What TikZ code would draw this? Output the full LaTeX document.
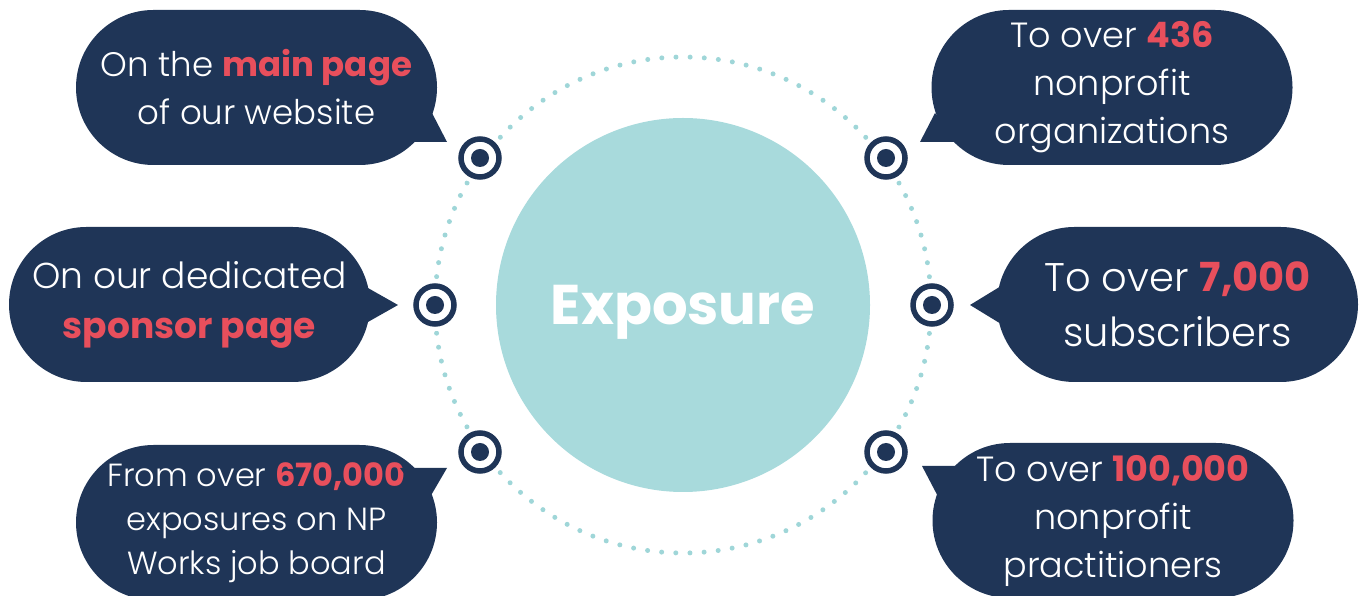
\documentclass[tikz,border=0pt]{standalone}
\usepackage{fontspec}
\setmainfont{Poppins}[UprightFont=* Light, BoldFont=* Bold]
\definecolor{navy}{HTML}{1F3557}
\definecolor{coral}{HTML}{E84F5C}
\definecolor{teal}{HTML}{A8DADC}
\definecolor{dotteal}{HTML}{9FD6D8}
\newcommand{\hot}[1]{\textcolor{coral}{\bfseries #1}}
\tikzset{
  bubble/.style={fill=navy, text=white, rounded corners=77.5pt, minimum width=361pt,
    minimum height=155pt, inner sep=0pt, align=center},
  target/.style={circle, draw=navy, fill=white, line width=5.5pt, minimum size=38pt, inner sep=0pt,
    preaction={draw=white, line width=14pt},
    path picture={\fill[navy] (path picture bounding box.center) circle (9pt);}},
  tail/.style={fill=navy}
}
\begin{document}
\begin{tikzpicture}[x=1pt,y=1pt]
  \useasboundingbox (0,0) rectangle (1364,596);
  \clip (0,0) rectangle (1364,596);
  % ring of dots and the hub
  \draw[dotteal, line width=5pt, line cap=round, dash pattern=on 0pt off 14.166pt] (683,291) circle (248pt);
  \node[circle, fill=teal, minimum size=374pt, inner sep=0pt, text=white, text depth=0pt,
        font=\fontsize{56}{60}\selectfont\bfseries] (hub) at (683,291) {Exposure};
  % markers on the ring
  \node[target] (t1) at (480,438) {};
  \node[target] (t2) at (435,291) {};
  \node[target] (t3) at (480,144) {};
  \node[target] (t4) at (886,438) {};
  \node[target] (t5) at (932,291) {};
  \node[target] (t6) at (886,144) {};
  % bubbles, left side
  \node[bubble, font=\fontsize{34}{48}\selectfont] (b1) at (256.5,508.5) {On the \hot{main page}\\of our website};
  \node[bubble, font=\fontsize{36}{50}\selectfont] (b2) at (189.5,291.5) {On our dedicated\\\hot{sponsor page}};
  \node[bubble, font=\fontsize{32}{44}\selectfont] (b3) at (256.5,73.5) {From over \hot{670,000}\\exposures on NP\\Works job board};
  % bubbles, right side
  \node[bubble, font=\fontsize{35}{48}\selectfont] (b4) at (1112,508.5) {To over \hot{436}\\nonprofit\\organizations};
  \node[bubble, font=\fontsize{40}{55}\selectfont] (b5) at (1177.5,291.5) {To over \hot{7,000}\\subscribers};
  \node[bubble, font=\fontsize{35}{48}\selectfont] (b6) at (1113,75.5) {To over \hot{100,000}\\nonprofit\\practitioners};
  % tails
  \coordinate (p1) at (447,454);
  \coordinate (p2) at (398,291);
  \coordinate (p3) at (447,128);
  \coordinate (p4) at (920,454);
  \coordinate (p5) at (970,291);
  \coordinate (p6) at (922,130);
  \fill[tail] (432,483) -- (p1) -- (405,454) -- cycle;
  \fill[tail] (360,312.5) -- (p2) -- (360,269.5) -- cycle;
  \fill[tail] (400,128) -- (p3) -- (426,92) -- cycle;
  \fill[tail] (935,483) -- (p4) -- (960,454) -- cycle;
  \fill[tail] (1006,313) -- (p5) -- (1006,269) -- cycle;
  \fill[tail] (970,130) -- (p6) -- (944,88) -- cycle;
\end{tikzpicture}
\end{document}
